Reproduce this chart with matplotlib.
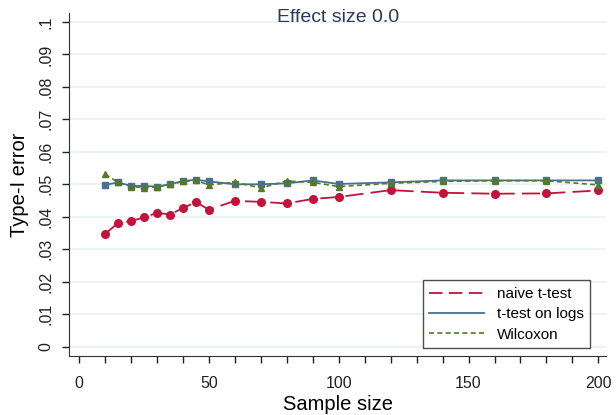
import matplotlib.pyplot as plt
import numpy as np

# sample sizes and type-I error rates (effect size 0.0)
n = [10, 15, 20, 25, 30, 35, 40, 45, 50, 60, 70, 80, 90, 100, 120, 140, 160, 180, 200]
naive = [0.0347, 0.0381, 0.0387, 0.0398, 0.0412, 0.0407, 0.0427, 0.0445, 0.0422,
         0.0449, 0.0446, 0.0441, 0.0455, 0.0461, 0.0482, 0.0474, 0.0471, 0.0472, 0.0481]
logs = [0.0498, 0.0506, 0.0495, 0.0495, 0.0493, 0.0500, 0.0510, 0.0514, 0.0509,
        0.0500, 0.0500, 0.0503, 0.0512, 0.0501, 0.0506, 0.0512, 0.0512, 0.0512, 0.0512]
wilcox = [0.0531, 0.0506, 0.0493, 0.0490, 0.0492, 0.0500, 0.0509, 0.0512, 0.0498,
          0.0506, 0.0489, 0.0510, 0.0506, 0.0493, 0.0503, 0.0509, 0.0511, 0.0511, 0.0498]

yticks = [0, .01, .02, .03, .04, .05, .06, .07, .08, .09, .1]
ylabels = ['0', '.01', '.02', '.03', '.04', '.05', '.06', '.07', '.08', '.09', '.1']

red = '#c5123a'
blue = '#4a6f8f'
green = '#54792a'

plt.rcParams['font.family'] = ['Liberation Sans', 'DejaVu Sans']

fig = plt.figure(figsize=(6.16, 4.15), dpi=100)
ax = fig.add_axes([0.112, 0.142, 0.872, 0.827])

ax.plot(n, naive, color=red, lw=1.3, dashes=(10, 4), marker='o', ms=5.5,
        label='naive t-test')
ax.plot(n, logs, color=blue, lw=1.3, marker='s', ms=4.5, label='t-test on logs')
ax.plot(n, wilcox, color=green, lw=1.2, dashes=(3, 2), marker='^', ms=5,
        label='Wilcoxon')

ax.set_xlim(-3.9, 203)
ax.set_ylim(-0.0029, 0.1028)
ax.set_yticks(yticks)
ax.set_yticklabels(ylabels, rotation=90, va='center')
ax.set_xticks([0, 50, 100, 150, 200])
ax.set_xticks(np.arange(0, 201, 10), minor=True)
ax.tick_params(axis='both', which='both', direction='out', length=5, width=1,
               labelsize=11.5, colors='#222222')
ax.tick_params(axis='x', which='minor', length=5)
ax.tick_params(axis='x', pad=9)
ax.tick_params(axis='y', pad=6)

ax.grid(axis='y', color='#e9f1f2', lw=1.2)
ax.set_axisbelow(True)
for s in ['top', 'right']:
    ax.spines[s].set_visible(False)
ax.spines['left'].set_color('#333333')
ax.spines['bottom'].set_color('#333333')

ax.set_xlabel('Sample size', fontsize=14.5, labelpad=3)
ax.set_ylabel('Type-I error', fontsize=14.5, labelpad=7)

fig.text(0.548, 1 - 17 / 415, 'Effect size 0.0', ha='center', va='center',
         fontsize=14, color='#2b3a5c')

leg = ax.legend(loc='lower right', bbox_to_anchor=(0.985, 0.0), fontsize=11,
                frameon=True, fancybox=False, edgecolor='#222222',
                handlelength=3.6, borderpad=0.45, labelspacing=0.4,
                markerscale=0)
leg.get_frame().set_linewidth(1)
for h in leg.get_lines():
    h.set_marker('')
leg.get_lines()[0].set_dashes((7.5, 3.5))

fig.savefig('out.png', dpi=100)
